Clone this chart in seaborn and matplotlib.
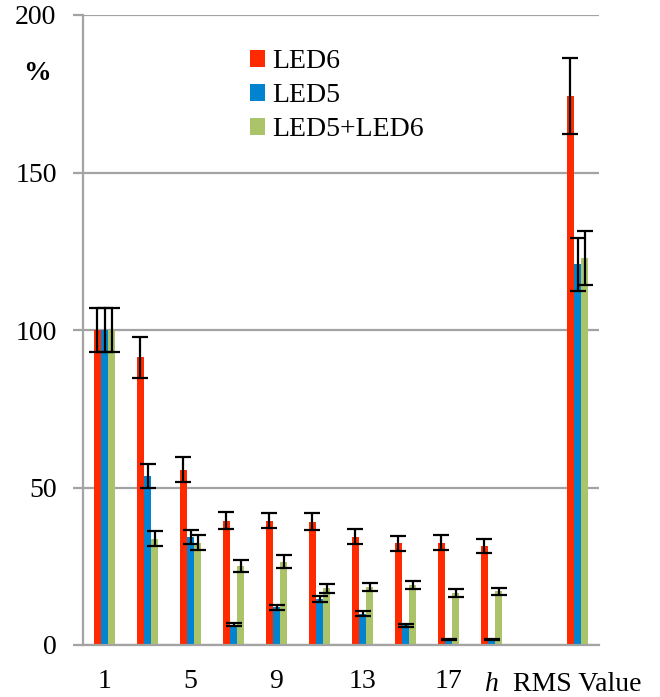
import numpy as np
import pandas as pd
import matplotlib
matplotlib.use("Agg")
import matplotlib.pyplot as plt
import seaborn as sns

# Harmonic orders, a blank spacer slot, then the RMS group
categories = ["1", "3", "5", "7", "9", "11", "13", "15", "17", "19", "", "RMS Value"]
series = ["LED6", "LED5", "LED5+LED6"]

led6 = [100, 91.3, 55.6, 39.5, 39.5, 39.2, 34.4, 32.3, 32.5, 31.5, None, 174.3]
led6_err = [7.0, 6.4, 4.0, 2.8, 2.5, 2.6, 2.3, 2.3, 2.3, 2.2, None, 12.2]
led5 = [100, 53.7, 34.2, 6.5, 12.0, 14.6, 10.0, 6.2, 1.8, 1.8, None, 120.8]
led5_err = [7.0, 3.9, 2.2, 0.6, 0.8, 0.9, 0.8, 0.4, 0.1, 0.1, None, 8.4]
both = [100, 33.8, 32.5, 25.1, 26.5, 18.0, 18.5, 19.0, 16.4, 17.0, None, 122.8]
both_err = [7.0, 2.4, 2.4, 1.8, 2.0, 1.4, 1.3, 1.3, 1.3, 1.2, None, 8.6]

tick_labels = ["1", "5", "9", "13", "17"]
colors = ["#FF2A00", "#0283CF", "#ABC46A"]

rows = []
for name, vals, errs in zip(series, [led6, led5, both], [led6_err, led5_err, both_err]):
    for cat, v, e in zip(categories, vals, errs):
        if v is not None:
            rows.append({"h": cat, "series": name, "value": v, "err": e})
df = pd.DataFrame(rows)

sns.set_style("white")
plt.rcParams["font.family"] = ["Liberation Serif", "DejaVu Serif"]
plt.rcParams["text.color"] = "black"
plt.rcParams["xtick.labelcolor"] = "black"
plt.rcParams["ytick.labelcolor"] = "black"

fig = plt.figure(figsize=(6.6, 6.97), dpi=100)
ax = fig.add_axes([83 / 660, 52 / 697, 516 / 660, 630 / 697])

sns.barplot(data=df, x="h", y="value", hue="series", order=categories,
            hue_order=series, palette=colors, width=0.5, errorbar=None,
            saturation=1, linewidth=0, ax=ax)

# Error bars placed at the centres of the drawn bars
for name, container in zip(series, ax.containers):
    sub = df[df["series"] == name].set_index("h")
    for bar in container:
        xc = bar.get_x() + bar.get_width() / 2
        cat = categories[int(round(xc))]
        ax.errorbar(xc, sub.loc[cat, "value"], yerr=sub.loc[cat, "err"],
                    fmt="none", ecolor="black", elinewidth=1.6,
                    capsize=5.8, capthick=1.6, zorder=4)

grey = "#A3A3A3"
ax.set_ylim(0, 200)
ax.set_xlim(-0.5, len(categories) - 0.5)
ax.set_yticks([0, 50, 100, 150, 200])
ax.yaxis.grid(True, color=grey, linewidth=1.6)
ax.set_axisbelow(True)
for side in ["top", "right"]:
    ax.spines[side].set_visible(False)
for side in ["left", "bottom"]:
    ax.spines[side].set_color(grey)
    ax.spines[side].set_linewidth(1.6)

ax.set_xticks([categories.index(t) for t in tick_labels])
ax.set_xticklabels(tick_labels)
ax.tick_params(axis="x", length=0, pad=17, labelsize=20, labelcolor="black")
ax.tick_params(axis="y", length=7, width=1.6, color=grey, direction="out",
               pad=12, labelsize=20, left=True, labelcolor="black")
ax.set_xlabel("")
ax.set_ylabel("")

# Axis annotations on the category axis
ax.text(categories.index("19"), -0.073, "h", transform=ax.get_xaxis_transform(),
        ha="center", va="baseline", fontsize=20, style="italic", color="black")
ax.text(categories.index("RMS Value"), -0.073, "RMS Value",
        transform=ax.get_xaxis_transform(), ha="center", va="baseline",
        fontsize=20, color="black")
fig.text(37 / 660, 1 - 73 / 697, "%", ha="center", va="center",
         fontsize=20, fontweight="bold", color="black")

leg = ax.legend(loc="upper left", bbox_to_anchor=(250 / 660, 1 - 49 / 697),
                bbox_transform=fig.transFigure, frameon=False, fontsize=20,
                handlelength=0.55, handleheight=0.55, handletextpad=0.25,
                labelspacing=0.33, borderpad=0, borderaxespad=0)
for t in leg.get_texts():
    t.set_color("black")

fig.savefig("out.png", dpi=100)
